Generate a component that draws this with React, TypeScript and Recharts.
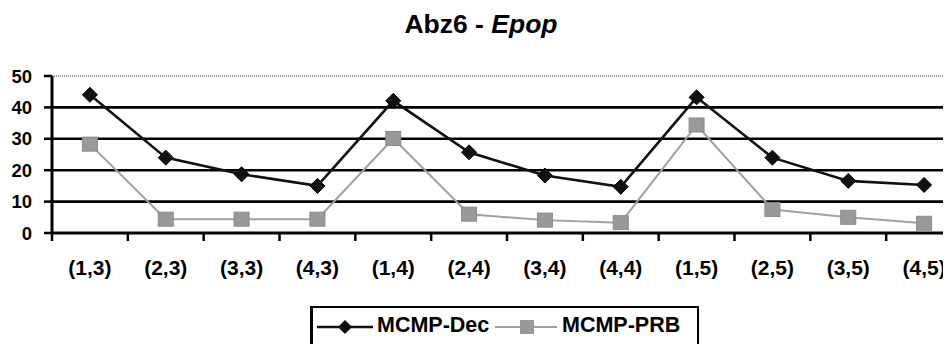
import React from 'react'
import { LineChart, XAxis, YAxis, Line, ReferenceLine } from 'recharts'

const categories = ['(1,3)', '(2,3)', '(3,3)', '(4,3)', '(1,4)', '(2,4)', '(3,4)', '(4,4)', '(1,5)', '(2,5)', '(3,5)', '(4,5)']
const mcmpDec = [44, 24, 18.7, 15, 42.1, 25.7, 18.3, 14.7, 43.2, 24, 16.6, 15.3]
const mcmpPrb = [28.3, 4.4, 4.4, 4.4, 30.1, 6, 4.1, 3.3, 34.4, 7.5, 5, 3.1]
const yTicks = [0, 10, 20, 30, 40, 50]
const gridValues = [10, 20, 30, 40]
const xBoundaries = [0, 1, 2, 3, 4, 5, 6, 7, 8, 9, 10, 11, 12]

const data = categories.map((name, i) => ({ x: i + 0.5, name, dec: mcmpDec[i], prb: mcmpPrb[i] }))

const FONT = '"Liberation Sans", Arial, Helvetica, sans-serif'
const W = 960
const H = 336
const M = { top: 68, right: 6, bottom: 71, left: 4 }
const Y_W = 40
const band = (W - M.left - M.right - Y_W) / categories.length

const XTick = (props: any) => {
  const { x, y, payload } = props
  const label = categories[payload.value]
  if (!label) return null
  return (
    <text x={x + band / 2} y={y + 32} textAnchor="middle" fill="#000"
      style={{ fontFamily: FONT, fontSize: 21, fontWeight: 'bold' }}>
      {label}
    </text>
  )
}

const Diamond = (p: any) => {
  if (p.cx == null || p.cy == null) return null
  const r = 7.5
  return <path key={p.index} d={`M${p.cx},${p.cy - r}L${p.cx + r},${p.cy}L${p.cx},${p.cy + r}L${p.cx - r},${p.cy}Z`} fill="#111" stroke="#000" strokeWidth={1} />
}

const Square = (p: any) => {
  if (p.cx == null || p.cy == null) return null
  return <rect key={p.index} x={p.cx - 7.5} y={p.cy - 7} width={15} height={14} fill="#999" stroke="#8a8a8a" strokeWidth={1} />
}

const App: React.FC = () => {
  return (
    <div style={{ position: 'relative', width: 943, height: H, overflow: 'hidden', fontFamily: FONT }}>
      <div style={{ position: 'absolute', left: 0, top: 3, width: 946, textAlign: 'center', fontSize: 26.5, lineHeight: '26px', fontWeight: 'bold', zIndex: 2 }}>
        Abz6 - <i>Epop</i>
      </div>
      <LineChart width={W} height={H} data={data} margin={M}>
        <XAxis dataKey="x" type="number" domain={[0, 12]} ticks={xBoundaries} interval={0}
          axisLine={{ stroke: '#000', strokeWidth: 3 }} tickLine={{ stroke: '#000', strokeWidth: 2.5 }}
          tickSize={8} tick={<XTick />} height={40} allowDataOverflow />
        <YAxis domain={[0, 50]} ticks={yTicks} width={Y_W} interval={0}
          axisLine={{ stroke: '#000', strokeWidth: 3 }} tickLine={{ stroke: '#000', strokeWidth: 2.5 }}
          tickSize={8} tickMargin={12}
          tick={{ fill: '#000', fontSize: 18.5, fontWeight: 'bold', fontFamily: FONT }} />
        {gridValues.map((v) => (
          <ReferenceLine key={v} y={v} stroke="#000" strokeWidth={2.6} />
        ))}
        <ReferenceLine y={50} stroke="#999" strokeWidth={2} strokeDasharray="1 1" />
        <Line type="linear" dataKey="prb" stroke="#a0a0a0" strokeWidth={2} dot={Square} activeDot={false} isAnimationActive={false} />
        <Line type="linear" dataKey="dec" stroke="#111" strokeWidth={2.6} dot={Diamond} activeDot={false} isAnimationActive={false} />
      </LineChart>
      <div style={{ position: 'absolute', left: 302, top: 298, width: 384, height: 48, border: '2px solid #000', borderLeftWidth: 3, background: '#fff' }}>
        <svg width={384} height={48} style={{ display: 'block' }}>
          <line x1={4} y1={19} x2={60} y2={19} stroke="#111" strokeWidth={2.5} />
          <path d="M32,12L39,19L32,26L25,19Z" fill="#111" />
          <text x={64} y={24} fill="#000" style={{ fontFamily: FONT, fontSize: 21.5, fontWeight: 'bold' }}>MCMP-Dec</text>
          <line x1={182} y1={19} x2={244} y2={19} stroke="#a0a0a0" strokeWidth={2} />
          <rect x={207} y={12} width={14} height={14} fill="#999" />
          <text x={249} y={24} fill="#000" style={{ fontFamily: FONT, fontSize: 21.5, fontWeight: 'bold' }}>MCMP-PRB</text>
        </svg>
      </div>
    </div>
  )
}

export default App
